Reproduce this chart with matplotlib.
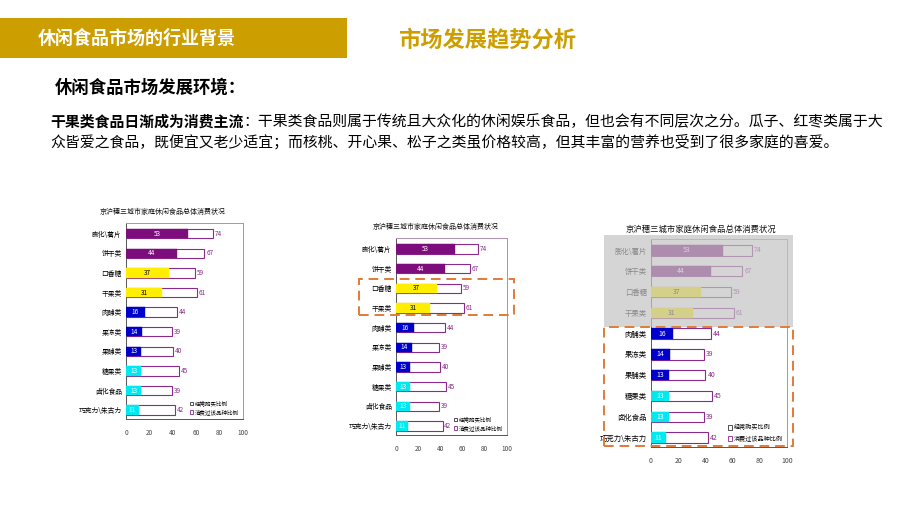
import matplotlib
matplotlib.use("Agg")
import matplotlib.pyplot as plt
from matplotlib.patches import Rectangle, Patch

plt.rcParams['font.family'] = ['Noto Sans CJK SC', 'DejaVu Sans']

W, H = 920, 526

categories = ['膨化\\薯片', '饼干类', '口香糖', '干果类', '肉脯类',
              '果冻类', '果脯类', '糖果类', '卤化食品', '巧克力\\朱古力']
frequent = [53, 44, 37, 31, 16, 14, 13, 13, 13, 11]
total = [74, 67, 59, 61, 44, 39, 40, 45, 39, 42]
bar_colors = ['#7d0c7d', '#7d0c7d', '#ffee00', '#ffee00', '#0000cc',
              '#0000cc', '#0000cc', '#00e8f0', '#00e8f0', '#00e8f0']
text_colors = ['white', 'white', 'black', 'black', 'white',
               'white', 'white', 'white', 'white', 'white']
xticks = [0, 20, 40, 60, 80, 100]
chart_title = '京沪穗三城市家庭休闲食品总体消费状况'
legend_labels = ['经常购买比例', '消费过该品种比例']

GOLD = '#cc9e00'
ORANGE = '#e07b39'
PURPLE = '#8a2a8a'


def fx(x):
    return x / W


def fy(y):
    return 1 - y / H


def box(x0, y0, x1, y1, **kw):
    r = Rectangle((fx(x0), fy(y1)), fx(x1) - fx(x0), fy(y0) - fy(y1),
                  transform=fig.transFigure, **kw)
    fig.patches.append(r)
    return r


def chart(left, right, top, bottom, title_x, title_y, fs, title_fs, bh=0.48):
    ax = fig.add_axes([fx(left), fy(bottom), fx(right) - fx(left), fy(top) - fy(bottom)])
    n = len(categories)
    ypos = list(range(n))
    ax.barh(ypos, total, height=bh, color='white', edgecolor=PURPLE, linewidth=0.8, zorder=2)
    for i in ypos:
        hatch = 'xxxx' if i < 2 else None
        ax.barh(i, frequent[i], height=bh, color=bar_colors[i], edgecolor=bar_colors[i],
                hatch=hatch, linewidth=0.3, zorder=3)
        ax.text(frequent[i] / 2, i, str(frequent[i]), ha='center', va='center',
                fontsize=fs, color=text_colors[i], zorder=4)
        ax.text(total[i] + 1.5, i, str(total[i]), ha='left', va='center',
                fontsize=fs, color=PURPLE, zorder=4)
    ax.set_xlim(0, 100)
    ax.set_ylim(n - 0.55, -0.55)
    ax.set_yticks(ypos)
    ax.set_yticklabels(categories, fontsize=fs + 0.3)
    ax.set_xticks(xticks)
    ax.set_xticklabels([str(t) for t in xticks], fontsize=fs, color='#444444')
    ax.tick_params(axis='x', length=0, pad=7)
    ax.tick_params(axis='y', length=0, pad=3)
    for s in ax.spines.values():
        s.set_color('#b38fb3')
        s.set_linewidth(0.7)
    ax.spines['left'].set_color('#555555')
    ax.spines['bottom'].set_color('#555555')
    handles = [Patch(facecolor='white', edgecolor='#333333', linewidth=0.6),
               Patch(facecolor='white', edgecolor=PURPLE, linewidth=0.6)]
    ax.legend(handles, legend_labels, loc='lower right', fontsize=fs - 0.6, frameon=False,
              handlelength=0.7, handleheight=0.7, handletextpad=0.3, labelspacing=0.5,
              borderaxespad=0.3)
    fig.text(fx(title_x), fy(title_y), chart_title, ha='center', va='center',
             fontsize=title_fs, color='#111111')
    return ax


fig = plt.figure(figsize=(W / 100, H / 100), dpi=100)
fig.patch.set_facecolor('white')

# header banner
box(0, 18, 347, 58, facecolor=GOLD, edgecolor='none')
fig.text(fx(38), fy(38), '休闲食品市场的行业背景', fontsize=13, fontweight='bold',
         color='white', va='center', ha='left')
fig.text(fx(398), fy(40), '市场发展趋势分析', fontsize=16, fontweight='bold',
         color=GOLD, va='center', ha='left')

fig.text(fx(55), fy(88), '休闲食品市场发展环境：', fontsize=12.5, fontweight='bold',
         color='black', va='center', ha='left')
t1 = fig.text(fx(50), fy(122), '干果类食品日渐成为消费主流', fontsize=10.7, fontweight='bold',
              color='black', va='center', ha='left')
fig.canvas.draw()
bb = t1.get_window_extent()
fig.text(bb.x1 / W, fy(122),
         '：干果类食品则属于传统且大众化的休闲娱乐食品，但也会有不同层次之分。瓜子、红枣类属于大',
         fontsize=10.7, color='black', va='center', ha='left')
fig.text(fx(50), fy(142),
         '众皆爱之食品，既便宜又老少适宜；而核桃、开心果、松子之类虽价格较高，但其丰富的营养也受到了很多家庭的喜爱。',
         fontsize=10.7, color='black', va='center', ha='left')

# chart 1
chart(126, 243, 223, 419, 163, 212, 4.6, 5.0)
# chart 2
chart(396, 507, 238, 435, 436, 227, 4.6, 5.0)
box(359, 279, 514, 315, facecolor='none', edgecolor=ORANGE, linestyle=(0, (5, 3)),
    linewidth=1.4, zorder=6)
# chart 3
chart(651, 787, 239, 447, 701, 229, 5.0, 6.0, bh=0.5)
box(604, 235, 793, 327, facecolor='#c4c4c4', edgecolor='none', alpha=0.7, zorder=5)
box(604, 327, 793, 446, facecolor='none', edgecolor=ORANGE, linestyle=(0, (5, 3)),
    linewidth=1.4, zorder=6)

fig.savefig('out.png', dpi=100)
